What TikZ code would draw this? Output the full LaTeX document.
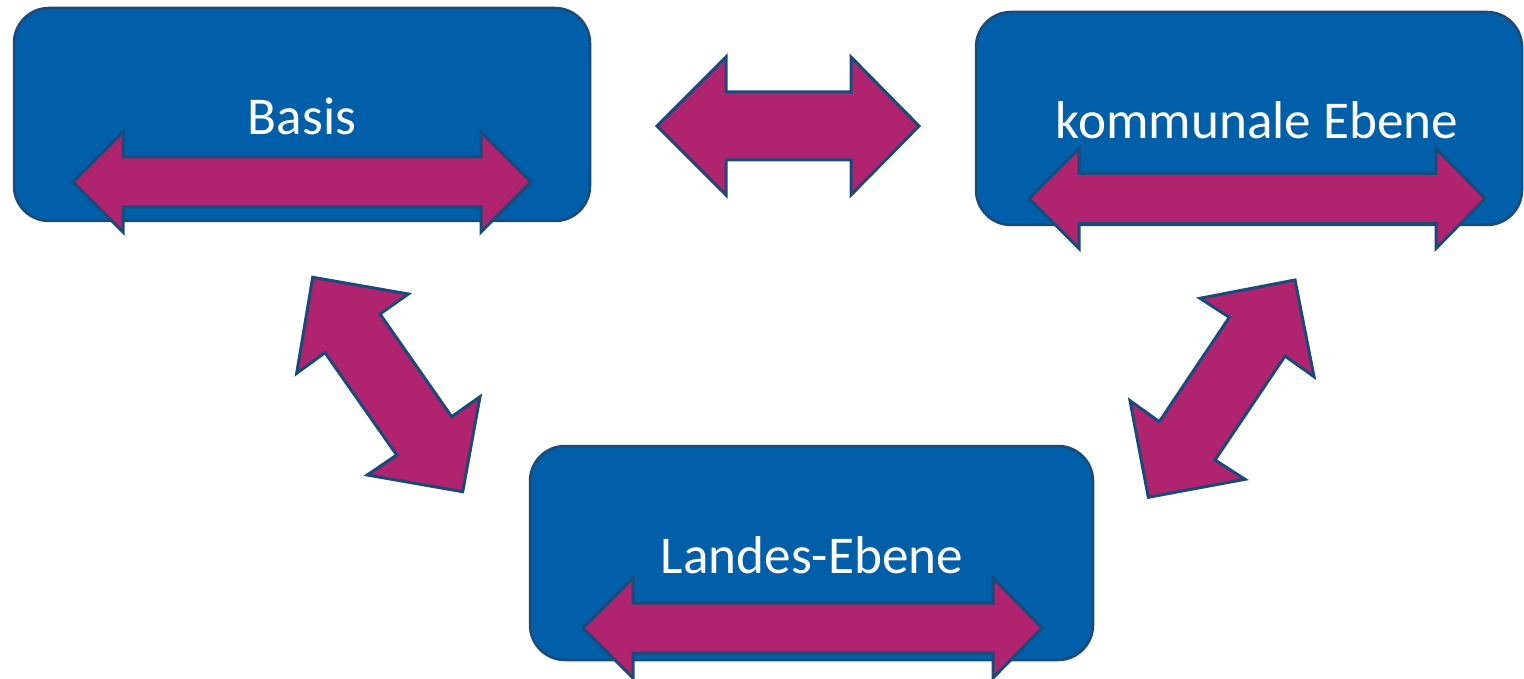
\documentclass[tikz,border=0pt]{standalone}
\usepackage{fontspec}
\setmainfont{Carlito}
\definecolor{boxblue}{RGB}{0,95,168}
\definecolor{edgeblue}{RGB}{26,74,122}
\definecolor{arrowmag}{RGB}{176,35,111}
\tikzset{
  levelbox/.style={draw=edgeblue, line width=1.25pt, fill=boxblue, rounded corners=17.5pt, rectangle, inner sep=0pt},
  leveltext/.style={text=white, font=\fontsize{26.6}{31}\selectfont, inner sep=0pt},
  dblarr/.style={draw=edgeblue, line width=1.5pt, fill=arrowmag, line join=miter}
}
% horizontal double arrow: left tip x, left base x, right base x, right tip x, centre y, head half, shaft half
\newcommand\hdblarrow[7]{%
  \draw[dblarr] (#1,#5) -- (#2,#5-#6) -- (#2,#5-#7) -- (#3,#5-#7) -- (#3,#5-#6) -- (#4,#5)
    -- (#3,#5+#6) -- (#3,#5+#7) -- (#2,#5+#7) -- (#2,#5+#6) -- cycle;}
\begin{document}
\begin{tikzpicture}[x=0.5pt,y=-0.5pt]
\useasboundingbox (0,0) rectangle (1524,679);
\begin{scope}
\clip (0,0) rectangle (1524,679);
% boxes
\node[levelbox, minimum width=288pt, minimum height=106.5pt] (basis) at (302,114.5) {};
\node[levelbox, minimum width=273pt, minimum height=106.5pt] (komm) at (1249,118.5) {};
\node[levelbox, minimum width=281.5pt, minimum height=107pt] (land) at (811.5,553) {};
% texts
\node[leveltext] (tbasis) at (302,116) {Basis};
\node[leveltext] (tkomm) at (1257,120) {kommunale Ebene};
\node[leveltext] (tland) at (812,555) {Landes-Ebene};
% horizontal arrows
\hdblarrow{73}{123}{481}{531}{182}{50}{25}
\hdblarrow{657}{726}{851}{919}{126}{69}{34}
\hdblarrow{1029}{1079}{1436}{1485}{198.5}{50}{25}
\hdblarrow{583}{633}{993}{1042}{628}{50}{25}
% diagonal arrows
\draw[dblarr] (312.7,277.3) -- (408.3,294) -- (380,314) -- (451.7,416.7) -- (480,396.7)
  -- (462.7,491.7) -- (367.3,475) -- (396.7,455) -- (325,352.7) -- (296.7,373.3) -- cycle;
\draw[dblarr] (1295,280) -- (1314,376.7) -- (1285,356) -- (1215,460) -- (1245,479.3)
  -- (1148.3,497.3) -- (1130,400.7) -- (1159.3,421.7) -- (1229.3,317.3) -- (1200,298.3) -- cycle;
\end{scope}
\end{tikzpicture}
\end{document}
